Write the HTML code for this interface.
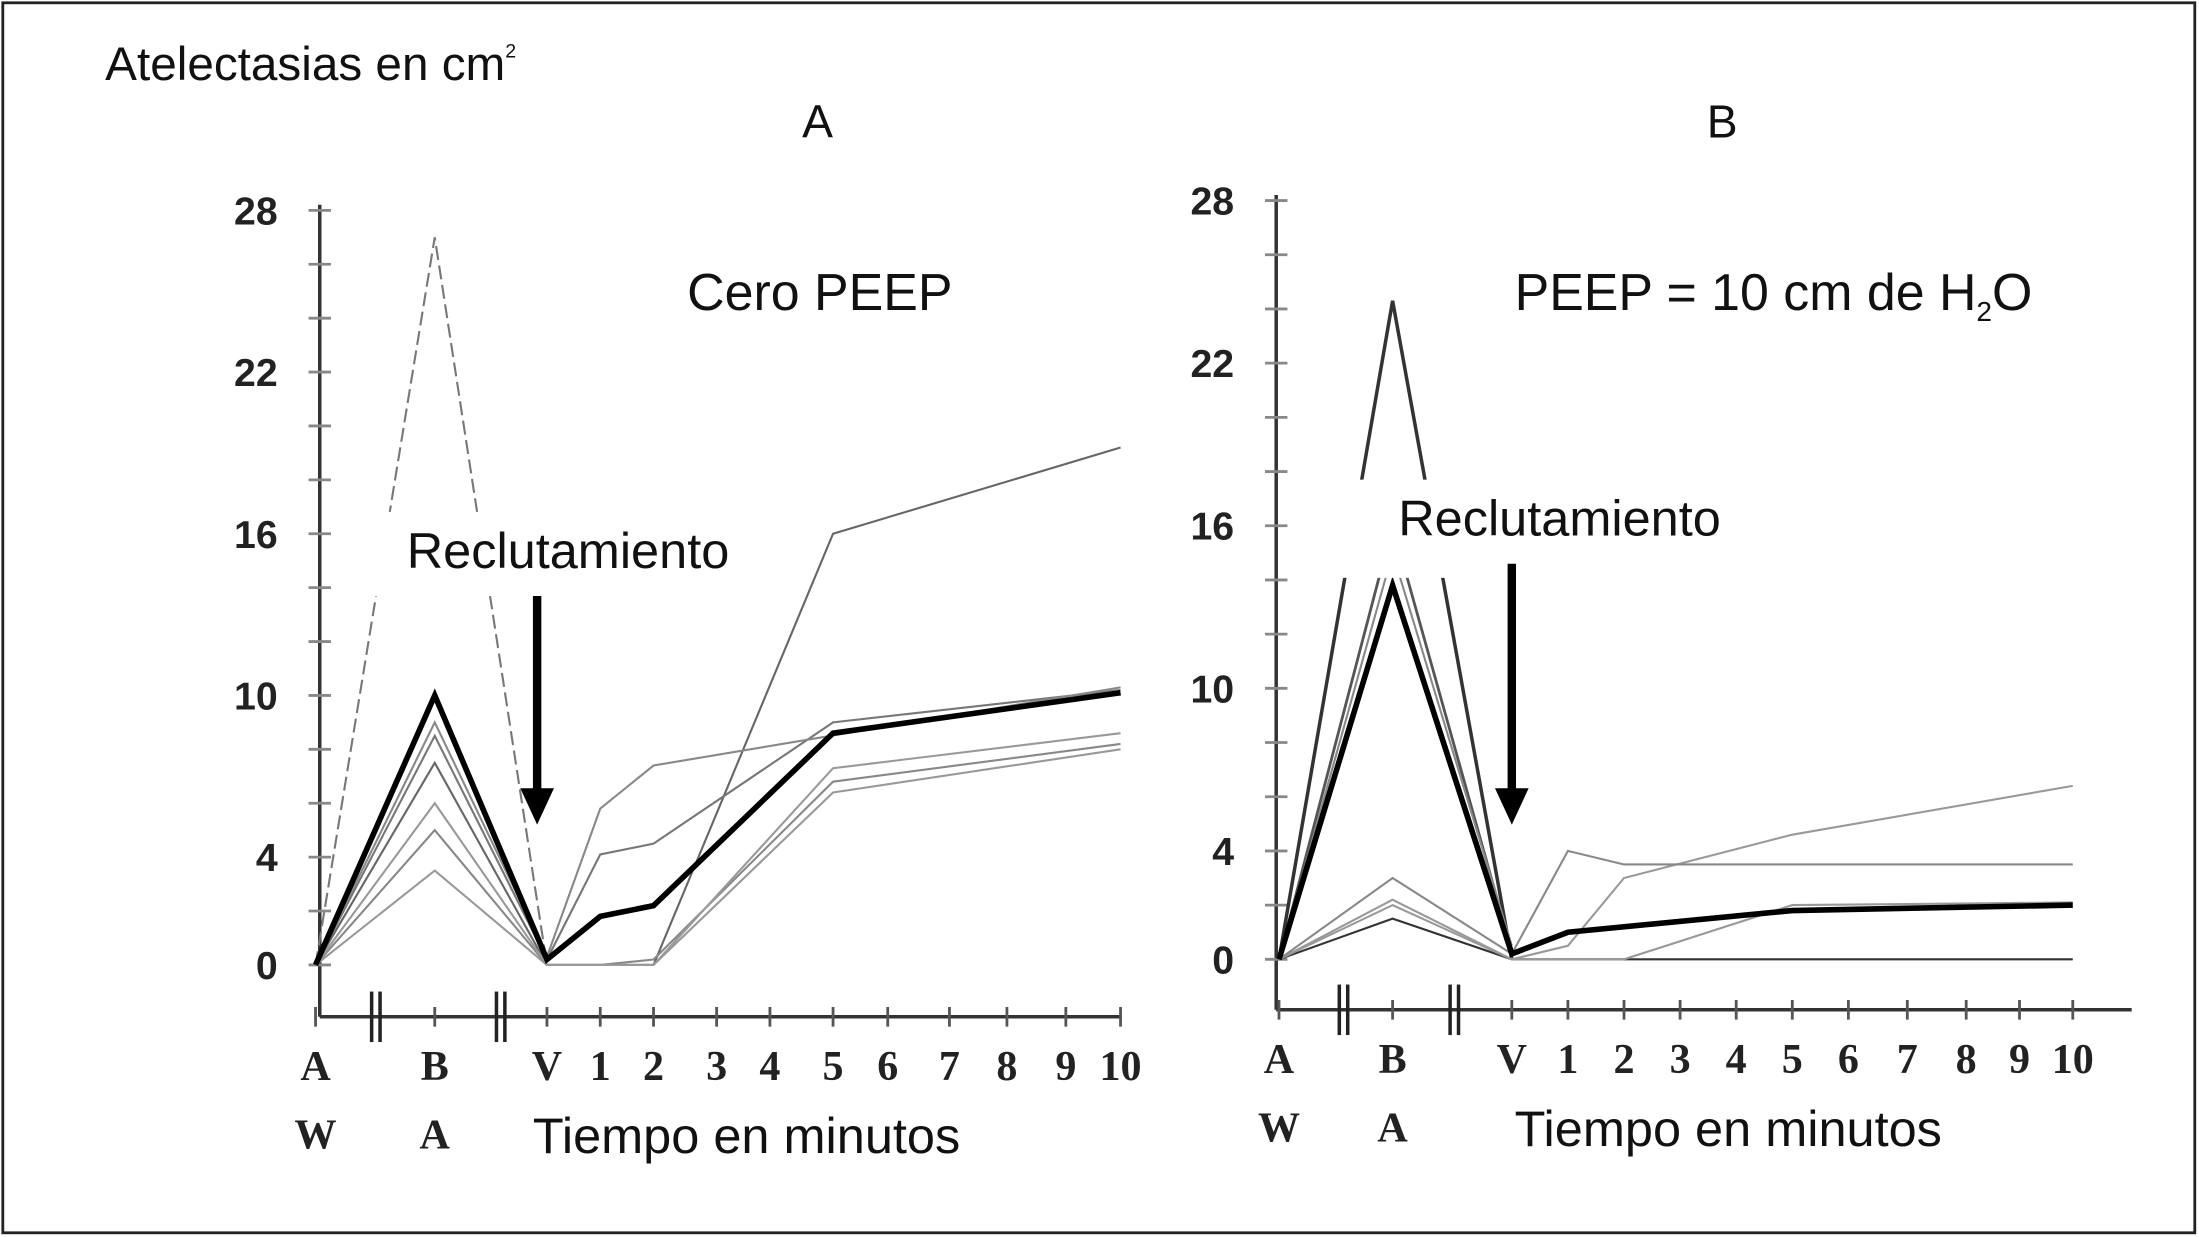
<!DOCTYPE html>
<html><head><meta charset="utf-8"><style>
html,body{margin:0;padding:0;background:#fff;}
svg{display:block;}
text{font-family:"Liberation Sans",sans-serif;fill:#111;}
.tk{font-family:"Liberation Serif",serif;font-weight:bold;font-size:30px;fill:#222;}
.yk{font-family:"Liberation Sans",sans-serif;font-weight:bold;font-size:28px;fill:#222;}
</style></head><body>
<svg id="c" width="2199" height="1237" viewBox="0 0 1568 882" preserveAspectRatio="none">
<rect x="2" y="2" width="1563" height="877" fill="#fff" stroke="#222" stroke-width="2"/>
<text x="75" y="57" font-size="34">Atelectasias en cm<tspan font-size="14" dy="-16">2</tspan></text>
<text x="583" y="98" font-size="33" text-anchor="middle">A</text>
<text x="1228" y="98" font-size="33" text-anchor="middle">B</text>
<text x="490" y="221" font-size="37">Cero PEEP</text>
<text x="1080" y="221" font-size="37">PEEP = 10 cm de H<tspan font-size="20" dy="8">2</tspan><tspan dy="-8">O</tspan></text>
<g id="gA"></g>
<g id="gB"></g>
</svg>
<script>
const categories=["AW","BA","V","1","2","3","4","5","6","7","8","9","10"];
const yTicks=[0,4,10,16,22,28];
// Panel A series (null = no point)
const aThick=[0,10,0.2,1.8,2.2,null,null,8.6,null,null,null,null,10.1];
const aPeak=[0,27,0];
const aThin1=[0,9,0.3,5.8,7.4,null,null,null,null,null,null,null,10.3];
const aThin2=[0,8.5,0.2,4.1,4.5,null,null,9,null,null,null,null,10.2];
const aThin3=[0,7.5,0,0,0,null,null,16,null,null,null,null,19.2];
const aThin4=[0,6,0,0,0,null,null,7.3,null,null,null,null,8.6];
const aThin5=[0,5,0,0,0.2,null,null,6.8,null,null,null,null,8.2];
const aThin6=[0,3.5,0,0,0,null,null,6.4,null,null,null,null,8];
// Panel B series
const bThick=[0,13.8,0.2,1,null,null,null,1.8,null,null,null,null,2];
const bPeak=[0,24.3,0];
const bHigh1=[0,16,0.3];
const bHigh2=[0,15,0.5];
const bThin1=[0,3,0.2,4,3.5,null,null,3.5,null,null,null,null,3.5];
const bThin2=[0,2.2,0,0.5,3,null,null,4.6,null,null,null,null,6.4];
const bThin3=[0,2,0,0,0,null,null,2,null,null,null,null,2.1];
const bThin4=[0,1.5,0,0,0,null,null,0,null,null,null,null,0];

const NS="http://www.w3.org/2000/svg";
function mk(g,tag,at){const e=document.createElementNS(NS,tag);for(const k in at)e.setAttribute(k,at[k]);g.appendChild(e);return e;}
function panel(gid,cfg,series,arrowX,reclX,reclY,bgH){
  const g=document.getElementById(gid);
  const yS=v=>cfg.y0-(cfg.y0-cfg.y28)*v/28;
  const xS=i=>cfg.xs[i];
  let e=mk(g,'line',{x1:cfg.ax,y1:cfg.y28-4,x2:cfg.ax,y2:cfg.axY,stroke:'#333','stroke-width':2.5});
  
  
  e=mk(g,'line',{x1:cfg.ax,y1:cfg.axY,x2:cfg.xEnd,y2:cfg.axY,stroke:'#333','stroke-width':2.5});
  
  
  for(let v=0;v<=28;v+=2){
    const l=mk(g,'line',{x1:cfg.ax-8,y1:yS(v),x2:cfg.ax+8,y2:yS(v),stroke:'#888','stroke-width':2});
    
    
  }
  yTicks.forEach(v=>{
    const t=mk(g,'text',{x:cfg.ax-30,y:yS(v)+10,'text-anchor':'end',class:'yk'});
    t.textContent=v;
    
    
  });
  categories.forEach((c,i)=>{
    const l=mk(g,'line',{x1:xS(i),y1:cfg.axY-7,x2:xS(i),y2:cfg.axY+7,stroke:'#555','stroke-width':2});
    
    
    const t=mk(g,'text',{x:xS(i),y:cfg.axY+45,'text-anchor':'middle',class:'tk'});
    t.textContent=(c.length==2 && isNaN(+c))?c[0]:c;
    
    
    if(c.length==2 && isNaN(+c)){
      const t2=mk(g,'text',{x:xS(i),y:cfg.axY+94,'text-anchor':'middle',class:'tk'});
      t2.textContent=c[1];
      
      
    }
  });
  cfg.brk.forEach(bx=>{[-3,3].forEach(d=>{
    const l=mk(g,'line',{x1:bx+d,y1:cfg.axY-18,x2:bx+d,y2:cfg.axY+18,stroke:'#222','stroke-width':2.5});
    
    
  });});
  series.forEach(s=>{
    const pts=[];s.d.forEach((v,i)=>{if(v!=null)pts.push(xS(i)+','+yS(v));});
    const p=mk(g,'polyline',{points:pts.join(' '),fill:'none',stroke:s.c,'stroke-width':s.w,'stroke-dasharray':s.da||'none'});
    
    
  });
  const tl=mk(g,'text',{x:cfg.tx,y:cfg.axY+97,'font-size':36});
  tl.textContent='Tiempo en minutos';
  
  
  const bg=mk(g,'rect',{x:reclX-50,y:reclY-40,width:300,height:bgH,fill:'#fff'});
  
  
  const rt=mk(g,'text',{x:reclX,y:reclY,'font-size':36});
  rt.textContent='Reclutamiento';
  
  
  const ar=mk(g,'line',{x1:arrowX,y1:reclY+20,x2:arrowX,y2:565,stroke:'#000','stroke-width':6});
  
  
  const ah=mk(g,'polygon',{points:(arrowX-12)+',562 '+(arrowX+12)+',562 '+arrowX+',588',fill:'#000'});
  
  
}
panel('gA',{ax:228,y0:688,y28:150,axY:725,xEnd:800,xs:[225,310,390,428,466,511,549,594,633,677,718,760,799],brk:[268,357],tx:380},
 [{d:aPeak,c:'#777',w:1.5,da:'10 4',n:'series-a-peak'},
  {d:aThin3,c:'#666',w:1.5,n:'series-a-3'},
  {d:aThin6,c:'#999',w:1.5,n:'series-a-6'},
  {d:aThin5,c:'#888',w:1.5,n:'series-a-5'},
  {d:aThin4,c:'#999',w:1.5,n:'series-a-4'},
  {d:aThin2,c:'#777',w:1.5,n:'series-a-2'},
  {d:aThin1,c:'#888',w:1.5,n:'series-a-1'},
  {d:aThick,c:'#000',w:4,n:'series-a-mean'}],383,290,405,60);
panel('gB',{ax:910,y0:684,y28:143,axY:720,xEnd:1520,xs:[912,993,1078,1118,1158,1198,1238,1278,1318,1360,1402,1440,1478],brk:[958,1037],tx:1080},
 [{d:bPeak,c:'#333',w:2.5,n:'series-b-peak'},
  {d:bHigh1,c:'#555',w:2,n:'series-b-high-1'},
  {d:bHigh2,c:'#888',w:1.5,n:'series-b-high-2'},
  {d:bThin4,c:'#333',w:1.5,n:'series-b-4'},
  {d:bThin3,c:'#999',w:1.5,n:'series-b-3'},
  {d:bThin2,c:'#999',w:1.5,n:'series-b-2'},
  {d:bThin1,c:'#888',w:1.5,n:'series-b-1'},
  {d:bThick,c:'#000',w:4,n:'series-b-mean'}],1078,997,382,70);
</script>
</body></html>
